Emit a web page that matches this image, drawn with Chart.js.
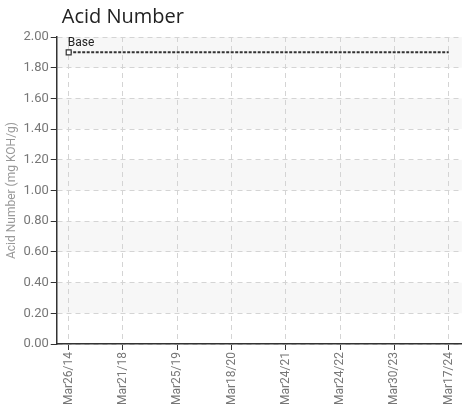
<!DOCTYPE html>
<html>
<head>
<meta charset="utf-8">
<script src="https://cdn.jsdelivr.net/npm/chart.js@4.4.1/dist/chart.umd.min.js"></script>
<style>
  html, body { margin: 0; padding: 0; background: #fff; }
  #wrap { width: 467px; height: 409px; }
</style>
</head>
<body>
<div id="wrap"><canvas id="acid-chart"></canvas></div>
<script>
// chart data
const dateLabels = ['Mar26/14', 'Mar21/18', 'Mar25/19', 'Mar18/20', 'Mar24/21', 'Mar24/22', 'Mar30/23', 'Mar17/24'];
const baseValues = [1.90, 1.90, 1.90, 1.90, 1.90, 1.90, 1.90, 1.90];
const yTicks = [0, 0.2, 0.4, 0.6, 0.8, 1.0, 1.2, 1.4, 1.6, 1.8, 2.0];

const narrow = '"Liberation Sans Narrow", "Roboto", sans-serif';

// light gray bands every other interval
const bandPlugin = {
  id: 'bands',
  beforeDraw(chart) {
    const { ctx, chartArea, scales } = chart;
    ctx.save();
    ctx.fillStyle = '#f7f7f7';
    for (let i = yTicks.length - 1; i > 0; i -= 2) {
      const top = scales.y.getPixelForValue(yTicks[i]);
      const bot = scales.y.getPixelForValue(yTicks[i - 1]);
      ctx.fillRect(chartArea.left, top, chartArea.right - chartArea.left, bot - top);
    }
    ctx.restore();
  }
};

// title drawn above the plot, lined up with the plot's left edge
const titlePlugin = {
  id: 'topTitle',
  afterDraw(chart) {
    const { ctx, chartArea } = chart;
    ctx.save();
    ctx.font = '20px "Open Sans", sans-serif';
    ctx.fillStyle = '#222';
    ctx.textBaseline = 'middle';
    ctx.fillText('Acid Number', chartArea.left + 5, 17);
    ctx.restore();
  }
};

// "Base" label above the first point
const labelPlugin = {
  id: 'baseLabel',
  afterDatasetsDraw(chart) {
    const { ctx } = chart;
    const pt = chart.getDatasetMeta(0).data[0];
    ctx.save();
    ctx.font = '12px ' + narrow;
    ctx.fillStyle = '#222';
    ctx.textBaseline = 'bottom';
    ctx.fillText('Base', pt.x - 1, pt.y - 3);
    ctx.restore();
  }
};

const ctx = document.getElementById('acid-chart').getContext('2d');
new Chart(ctx, {
  type: 'line',
  data: {
    datasets: [{
      label: 'Base',
      data: baseValues.map((v, i) => ({ x: i, y: v })),
      borderColor: '#333',
      borderWidth: 2,
      borderDash: [3, 1.5],
      pointStyle: 'rect',
      pointRadius: baseValues.map((_, i) => i === 0 ? 3.5 : 0),
      pointBackgroundColor: '#fff',
      pointBorderColor: '#333',
      pointBorderWidth: 1.2,
      fill: false,
      tension: 0
    }]
  },
  options: {
    responsive: true,
    maintainAspectRatio: false,
    animation: false,
    layout: { padding: { left: 3, right: 5, top: 37, bottom: 2 } },
    plugins: {
      legend: { display: false },
      tooltip: { enabled: false },
      title: { display: false }
    },
    scales: {
      x: {
        type: 'linear',
        min: -0.22,
        max: 7.24,
        afterBuildTicks(scale) {
          scale.ticks = dateLabels.map((_, i) => ({ value: i }));
        },
        ticks: {
          autoSkip: false,
          maxRotation: 90,
          minRotation: 90,
          color: '#777',
          font: { family: narrow, size: 12 },
          padding: 2,
          callback: (v) => dateLabels[v]
        },
        grid: {
          color: '#d4d4d4',
          tickColor: '#333',
          tickLength: 6,
          tickBorderDash: []
        },
        border: { color: '#333', width: 1.5, dash: [5, 4] }
      },
      y: {
        min: 0,
        max: 2,
        afterBuildTicks(scale) {
          scale.ticks = yTicks.map(v => ({ value: v }));
        },
        title: {
          display: true,
          text: 'Acid Number (mg KOH/g)',
          color: '#999',
          font: { family: narrow, size: 12 },
          padding: 2
        },
        ticks: {
          color: '#777',
          font: { family: narrow, size: 13 },
          padding: 2,
          callback: (v) => v.toFixed(2)
        },
        grid: {
          color: '#d4d4d4',
          tickColor: '#333',
          tickLength: 6,
          tickBorderDash: []
        },
        border: { color: '#333', width: 1.5, dash: [5, 4] }
      }
    }
  },
  plugins: [bandPlugin, labelPlugin, titlePlugin]
});
</script>
</body>
</html>
